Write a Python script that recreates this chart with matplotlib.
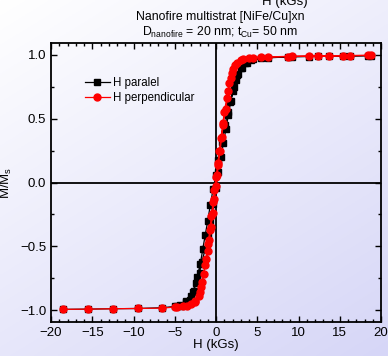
import numpy as np
import matplotlib
matplotlib.use('Agg')
from matplotlib import pyplot as plt
from matplotlib.ticker import MultipleLocator

plt.rcParams['font.family'] = ['Liberation Sans', 'DejaVu Sans']
plt.rcParams['mathtext.fontset'] = 'custom'
plt.rcParams['mathtext.rm'] = 'Liberation Sans'
plt.rcParams['mathtext.it'] = 'Liberation Sans:italic'

# H paralel: ascending branch then descending branch
h_par = [-18.5, -15.5, -12.5, -9.5, -6.5, -4.7, -4.2, -3.6, -3.2, -2.8, -2.3, -1.9, -1.6, -1.3,
         -1.0, -0.7, -0.35, 0.0, 0.3, 0.7, 1.1, 1.4, 1.7, 2.1, 2.4, 2.7, 3.1, 3.7, 4.5, 6.3,
         9.2, 12.4, 15.4, 18.4,
         18.8, 16.2, 13.7, 11.3, 8.7, 5.5, 4.2, 3.5, 3.0, 2.6, 2.2, 1.8, 1.5, 1.2, 0.9, 0.6,
         0.3, 0.0, -0.35, -0.7, -1.0, -1.3, -1.7, -2.0, -2.4, -2.7, -3.0, -3.6, -4.4, -5.0]
m_par = [-0.995, -0.993, -0.99, -0.988, -0.982, -0.97, -0.965, -0.94, -0.92, -0.86, -0.74, -0.64,
         -0.52, -0.41, -0.30, -0.18, -0.05, 0.06, 0.18, 0.32, 0.45, 0.55, 0.63, 0.72, 0.80, 0.85,
         0.90, 0.94, 0.965, 0.98, 0.988, 0.99, 0.993, 0.995,
         0.995, 0.993, 0.99, 0.988, 0.985, 0.975, 0.96, 0.935, 0.90, 0.84, 0.75, 0.64, 0.53, 0.42,
         0.31, 0.20, 0.08, -0.04, -0.17, -0.30, -0.42, -0.52, -0.62, -0.71, -0.79, -0.85, -0.89,
         -0.93, -0.96, -0.97]

# H perpendicular
h_perp = [-18.5, -15.5, -12.5, -9.5, -6.5, -4.7, -3.5, -2.6, -2.0, -1.7, -1.3, -1.0, -0.8, -0.6,
          -0.4, -0.2, 0.0, 0.15, 0.3, 0.5, 0.7, 0.9, 1.2, 1.5, 1.8, 2.1, 2.6, 3.3, 4.5, 6.3, 9.2,
          12.4, 15.4, 18.4,
          18.8, 16.2, 13.7, 11.3, 8.7, 5.5, 4.0, 3.0, 2.3, 1.9, 1.6, 1.3, 1.0, 0.8, 0.6, 0.4, 0.2,
          0.0, -0.2, -0.35, -0.55, -0.75, -0.95, -1.2, -1.5, -1.8, -2.1, -2.5, -3.0, -4.0, -5.0]
m_perp = [-0.995, -0.993, -0.99, -0.988, -0.985, -0.975, -0.965, -0.94, -0.86, -0.78, -0.65, -0.54,
          -0.45, -0.35, -0.24, -0.13, -0.03, 0.06, 0.15, 0.25, 0.36, 0.47, 0.58, 0.72, 0.82, 0.89,
          0.94, 0.97, 0.98, 0.985, 0.99, 0.992, 0.995, 0.997,
          0.997, 0.995, 0.992, 0.99, 0.988, 0.983, 0.975, 0.96, 0.92, 0.86, 0.78, 0.66, 0.55, 0.45,
          0.35, 0.25, 0.14, 0.04, -0.06, -0.15, -0.26, -0.37, -0.48, -0.60, -0.72, -0.82, -0.89,
          -0.93, -0.955, -0.972, -0.98]

fig = plt.figure(figsize=(3.88, 3.56), dpi=100)

# diagonal background gradient white -> lavender
bg = fig.add_axes([0, 0, 1, 1], zorder=-10)
gx, gy = np.meshgrid(np.linspace(0, 1, 200), np.linspace(0, 1, 200))
t = 0.4 * gx + 0.6 * gy
c0 = np.array([1.0, 1.0, 1.0])
c1 = np.array([0xd6, 0xd6, 0xf7]) / 255.0
img = c0[None, None, :] * (1 - t[..., None]) + c1[None, None, :] * t[..., None]
bg.imshow(img, aspect='auto', extent=[0, 1, 0, 1], origin='upper')
bg.axis('off')

ax = fig.add_axes([51/388, 1 - 322/356, 330/388, 279/356])
ax.patch.set_alpha(0)

ax.axhline(0, color='black', lw=1.3, zorder=1)
ax.axvline(0, color='black', lw=1.3, zorder=1)
ax.plot(h_par, m_par, color='black', lw=0.9, marker='s', ms=4.2, label='H paralel', zorder=3)
ax.plot(h_perp, m_perp, color='red', lw=0.9, marker='o', ms=5, label='H perpendicular', zorder=4)

ax.set_xlim(-20, 20)
ax.set_ylim(-1.094, 1.094)
ax.xaxis.set_major_locator(MultipleLocator(5))
ax.xaxis.set_minor_locator(MultipleLocator(1))
ax.yaxis.set_major_locator(MultipleLocator(0.5))
ax.yaxis.set_minor_locator(MultipleLocator(0.25))
ax.tick_params(which='both', direction='in', top=True, right=True, labelsize=9.5, width=1)
ax.tick_params(which='major', length=4)
ax.tick_params(which='minor', length=2.5)
for s in ax.spines.values():
    s.set_linewidth(1.3)

ax.set_xlabel('H (kGs)', fontsize=9.5, labelpad=0)
ax.set_ylabel(r'M/M$_\mathrm{s}$', fontsize=9.5)
ax.yaxis.set_label_coords(-0.112, 0.5)
ax.legend(loc='upper left', bbox_to_anchor=(0.085, 0.9), frameon=False, fontsize=8.3,
          handlelength=2.2, handletextpad=0.25, labelspacing=0.25, borderpad=0)

fig.text(285/388, 1 - 5/356, 'H (kGs)', ha='center', va='baseline', fontsize=9.5)
fig.text(220/388, 1 - 20/356, 'Nanofire multistrat [NiFe/Cu]xn', ha='center', va='baseline', fontsize=8.8)
fig.text(220/388, 1 - 36/356, r'D$_{\mathrm{nanofire}}$ = 20 nm; t$_{\mathrm{Cu}}$= 50 nm',
         ha='center', va='baseline', fontsize=8.8)

fig.savefig('out.png', dpi=100)
